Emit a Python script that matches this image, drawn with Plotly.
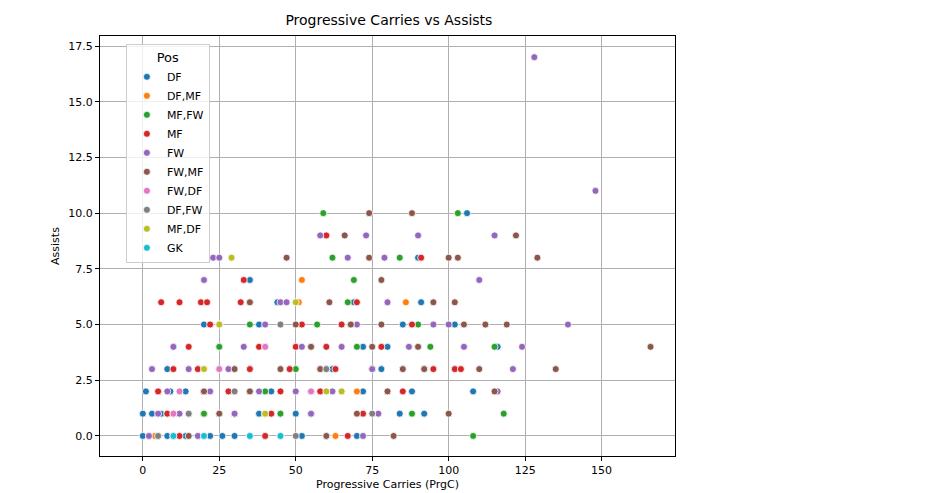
import plotly.graph_objects as go

positions = ["DF", "DF,MF", "MF,FW", "MF", "FW", "FW,MF", "FW,DF", "DF,FW", "MF,DF", "GK"]
colors = ["#1f77b4", "#ff7f0e", "#2ca02c", "#d62728", "#9467bd",
          "#8c564b", "#e377c2", "#7f7f7f", "#bcbd22", "#17becf"]

df_x = [0, 2, 5, 8, 10, 14, 18, 22, 26, 30, 35, 40, 45, 52, 60, 70,
        0, 3, 6, 10, 15, 20, 25, 30, 38, 45, 50, 84, 92,
        1, 5, 9, 14, 20, 28, 35, 42, 55, 72, 80, 88, 108,
        8, 18, 25, 35, 48, 62, 78, 92, 102,
        10, 25, 40, 55, 72, 80, 90, 116,
        20, 38, 65, 85, 102, 35, 44, 69, 91, 35, 90, 106]
df_y = [0] * 16 + [1] * 13 + [2] * 13 + [3] * 9 + [4] * 8 + [5] * 5 + [6] * 4 + [7, 8, 10]

dfmf_x = [4, 8, 20, 30, 52, 51, 86, 70, 63, 58, 40, 50]
dfmf_y = [0, 1, 1, 2, 7, 6, 6, 2, 0, 3, 1, 4]

mffw_x = [108, 118, 88, 103, 59, 62, 84, 69, 67, 57, 94, 115, 60, 80, 40, 30, 20, 10, 45, 25, 35, 50, 75, 90, 70]
mffw_y = [0, 1, 1, 10, 10, 8, 8, 7, 6, 5, 4, 4, 3, 2, 2, 3, 1, 0, 1, 4, 5, 3, 3, 5, 4]

mf_x = [6, 12, 19, 21, 33, 60, 91, 75, 102, 80, 10, 15, 20, 25, 30, 35, 40, 45, 50, 55, 5, 8,
        12, 18, 22, 28, 32, 38, 42, 48, 52, 58, 63, 67, 72, 78, 85, 95, 104, 88, 70, 60, 65]
mf_y = [6, 6, 6, 6, 7, 9, 8, 3, 3, 6, 3, 4, 2, 5, 1, 3, 0, 2, 4, 1, 2, 1,
        0, 3, 5, 2, 6, 4, 1, 3, 5, 2, 3, 0, 1, 4, 2, 3, 3, 5, 6, 4, 5]

fw_x = [128, 148, 139, 124, 115, 110, 121, 116, 112, 90, 73, 58, 67, 79, 20, 23, 25, 80, 95, 87, 77, 72,
        3, 5, 8, 10, 15, 18, 22, 28, 33, 40, 45, 50, 55, 60, 65, 70, 75, 85, 100, 105, 2, 12, 30, 38, 47, 52, 62, 68]
fw_y = [17, 11, 5, 4, 9, 7, 3, 2, 5, 9, 9, 9, 8, 8, 7, 8, 8, 6, 5, 4, 1, 0,
        3, 1, 2, 4, 3, 0, 2, 3, 4, 5, 6, 2, 1, 3, 4, 5, 3, 3, 5, 4, 0, 1, 1, 2, 6, 4, 2, 5]

fwmf_x = [166, 135, 129, 122, 119, 110, 100, 102, 103, 100, 95, 88, 74, 66, 61, 47, 35, 78, 74, 78, 85, 90,
          68, 55, 45, 35, 25, 15, 60, 70, 80, 92, 105, 115, 50, 40, 30, 20, 10, 82, 58, 65, 75, 112]
fwmf_y = [4, 3, 8, 9, 5, 3, 1, 6, 8, 8, 6, 10, 10, 9, 6, 8, 6, 7, 8, 5, 3, 4,
          5, 4, 3, 2, 1, 0, 0, 1, 2, 3, 5, 2, 5, 4, 3, 2, 1, 0, 3, 2, 4, 5]

fwdf_x = [10, 12, 25, 40, 55, 20]
fwdf_y = [1, 2, 3, 4, 2, 0]

dffw_x = [5, 15, 30, 45, 60, 75, 50]
dffw_y = [0, 1, 2, 5, 3, 1, 0]

mfdf_x = [29, 50, 60, 65, 40, 20, 25]
mfdf_y = [8, 6, 2, 2, 1, 3, 5]

gk_x = [10, 20, 35, 45]
gk_y = [0, 0, 0, 0]

series = [(df_x, df_y), (dfmf_x, dfmf_y), (mffw_x, mffw_y), (mf_x, mf_y), (fw_x, fw_y),
          (fwmf_x, fwmf_y), (fwdf_x, fwdf_y), (dffw_x, dffw_y), (mfdf_x, mfdf_y), (gk_x, gk_y)]

fig = go.Figure()
for name, color, (xs, ys) in zip(positions, colors, series):
    fig.add_trace(go.Scatter(
        x=xs, y=ys, mode="markers", name=name,
        marker=dict(color=color, size=7, line=dict(color="white", width=0.8)),
    ))

axis = dict(showgrid=True, gridcolor="#b0b0b0", gridwidth=1, zeroline=False,
            showline=True, linecolor="black", mirror=True, ticks="outside",
            ticklen=4, tickcolor="black", tickfont=dict(size=11, color="black"))

fig.update_layout(
    width=929, height=493,
    margin=dict(l=92, r=262, t=28, b=45),
    paper_bgcolor="white", plot_bgcolor="white",
    font=dict(family="DejaVu Sans", size=11, color="black"),
    title=dict(text="Progressive Carries vs Assists", x=0.41, xanchor="center",
               y=0.985, yanchor="top", font=dict(size=14)),
    legend=dict(title=dict(text="Pos", side="top center"), x=0.045, y=0.98,
                xanchor="left", yanchor="top", bgcolor="rgba(255,255,255,0.8)",
                bordercolor="#cccccc", borderwidth=1, font=dict(size=11)),
    xaxis=dict(axis, range=[-14, 174], tickvals=[0, 25, 50, 75, 100, 125, 150],
               title=dict(text="Progressive Carries (PrgC)", standoff=4, font=dict(size=11))),
    yaxis=dict(axis, range=[-0.9, 17.95], tickvals=[0, 2.5, 5, 7.5, 10, 12.5, 15, 17.5],
               tickformat=".1f", title=dict(text="Assists", standoff=6, font=dict(size=11))),
)

fig.write_html("out.html")
